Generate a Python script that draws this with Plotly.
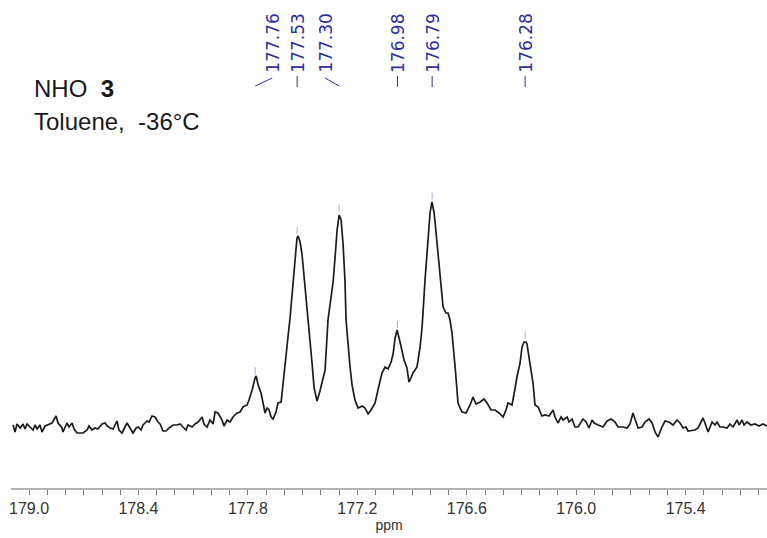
import numpy as np
import plotly.graph_objects as go

# 13C NMR trace (chemical shift in ppm, intensity in arbitrary units)
ppm = [
    179.088, 179.077, 179.066, 179.049, 179.033, 179.022, 179.011, 178.995, 178.978, 178.967,
    178.956, 178.940, 178.929, 178.912, 178.896, 178.874, 178.852, 178.841, 178.819, 178.814,
    178.792, 178.781, 178.764, 178.753, 178.737, 178.720, 178.704, 178.682, 178.671, 178.655,
    178.638, 178.622, 178.600, 178.583, 178.572, 178.556, 178.539, 178.518, 178.507, 178.490,
    178.474, 178.463, 178.446, 178.430, 178.413, 178.402, 178.386, 178.375, 178.353, 178.342,
    178.326, 178.309, 178.293, 178.282, 178.265, 178.249, 178.232, 178.210, 178.189, 178.172,
    178.156, 178.139, 178.128, 178.106, 178.090, 178.073, 178.051, 178.041, 178.024, 178.008,
    177.991, 177.980, 177.964, 177.942, 177.931, 177.914, 177.898, 177.882, 177.860, 177.843,
    177.827, 177.805, 177.794, 177.777, 177.761, 177.755, 177.744, 177.728, 177.717, 177.706,
    177.695, 177.684, 177.673, 177.662, 177.646, 177.635, 177.618, 177.607, 177.585, 177.569,
    177.558, 177.542, 177.536, 177.531, 177.525, 177.514, 177.503, 177.487, 177.481, 177.470,
    177.459, 177.449, 177.437, 177.421, 177.405, 177.388, 177.377, 177.361, 177.350, 177.333,
    177.322, 177.311, 177.300, 177.289, 177.278, 177.268, 177.262, 177.251, 177.240, 177.229,
    177.213, 177.196, 177.174, 177.158, 177.141, 177.125, 177.103, 177.087, 177.076, 177.065,
    177.048, 177.032, 177.015, 177.004, 176.993, 176.982, 176.966, 176.955, 176.944, 176.928,
    176.917, 176.906, 176.895, 176.884, 176.873, 176.856, 176.845, 176.829, 176.812, 176.801,
    176.791, 176.780, 176.774, 176.763, 176.747, 176.730, 176.714, 176.703, 176.692, 176.681,
    176.664, 176.648, 176.637, 176.626, 176.604, 176.582, 176.566, 176.549, 176.527, 176.505,
    176.489, 176.467, 176.445, 176.423, 176.401, 176.385, 176.374, 176.352, 176.335, 176.325,
    176.308, 176.297, 176.286, 176.275, 176.270, 176.253, 176.237, 176.226, 176.209, 176.188,
    176.171, 176.149, 176.127, 176.116, 176.100, 176.083, 176.072, 176.050, 176.039, 176.023,
    176.007, 175.990, 175.963, 175.946, 175.930, 175.913, 175.902, 175.880, 175.853, 175.831,
    175.809, 175.787, 175.771, 175.743, 175.721, 175.705, 175.689, 175.672, 175.661, 175.639,
    175.623, 175.601, 175.584, 175.568, 175.551, 175.530, 175.513, 175.491, 175.469, 175.447,
    175.431, 175.414, 175.398, 175.387, 175.365, 175.349, 175.332, 175.305, 175.294, 175.277,
    175.255, 175.239, 175.228, 175.212, 175.195, 175.173, 175.157, 175.140, 175.118, 175.107,
    175.091, 175.080, 175.064, 175.042, 175.020, 174.998, 174.976, 174.954,
]
intensity = [
    5, -2, 6, 2, 6, 1, 6, 3, 0, 5,
    1, 5, -2, 4, 5, 7, 14, 7, 2, -2,
    7, 3, 7, 1, -3, -3, -3, 0, 4, 0,
    2, 1, 6, 7, 4, 2, 1, 9, 0, -3,
    3, 7, 2, -3, 2, 3, 0, 5, 9, 8,
    14, 13, 8, 6, -1, -1, 2, 5, 5, 6,
    3, 0, 5, 3, 6, 8, 13, 6, 3, 10,
    6, 18, 17, 10, 4, 10, 8, 13, 17, 18,
    23, 25, 30, 40, 52, 54, 45, 37, 27, 17,
    22, 20, 13, 11, 18, 27, 28, 45, 85, 112,
    133, 167, 182, 192, 194, 188, 175, 145, 127, 107,
    88, 68, 42, 29, 39, 52, 60, 110, 125, 148,
    173, 200, 215, 210, 185, 150, 110, 85, 63, 45,
    30, 22, 24, 22, 16, 20, 27, 40, 50, 57,
    63, 61, 68, 76, 92, 100, 88, 78, 70, 62,
    48, 52, 57, 60, 63, 83, 103, 150, 197, 218,
    228, 218, 208, 185, 160, 123, 117, 117, 110, 97,
    63, 27, 22, 18, 17, 25, 33, 26, 28, 31,
    27, 20, 20, 17, 13, 20, 27, 25, 42, 53,
    67, 83, 88, 88, 86, 67, 47, 25, 23, 14,
    15, 14, 20, 13, 7, 13, 10, 13, 8, 11,
    3, 3, 11, 8, 2, 10, 7, 5, 3, 9,
    11, 8, 3, 3, 2, 6, 17, 8, 2, 3,
    8, 11, 7, -2, -7, 3, 9, 8, 5, 10,
    7, 2, 3, -1, 0, 0, 2, 12, 7, -2,
    8, 5, 8, 3, 3, 2, 6, 3, 10, 5,
    10, 5, 8, 5, 6, 4, 6, 4,
]

# Picked peaks
peak_ppm = [177.76, 177.53, 177.30, 176.98, 176.79, 176.28]
peak_text = ["177.76", "177.53", "177.30", "176.98", "176.79", "176.28"]
label_shift_px = [17, 0, -14, 0, 0, 0]

# Axis ticks
tick_vals = [179.0, 178.4, 177.8, 177.2, 176.6, 176.0, 175.4]
tick_text = [f"{v:.1f}" for v in tick_vals]

W, H = 767, 538
ML, MB = 11, 50
PLOT_H = H - MB


def ypaper(px):
    """Convert a pixel row (from the top of the figure) to paper y."""
    return 1 - px / PLOT_H


def xpaper(px):
    """Convert a pixel column (from the left of the figure) to paper x."""
    return (px - ML) / (W - ML)


fig = go.Figure()

fig.add_trace(go.Scatter(
    x=ppm, y=intensity, mode="lines",
    line=dict(color="#1c1c1c", width=1.7),
    hoverinfo="skip", showlegend=False,
))

# small peak-pick markers just above each maximum
x_rev = np.array(ppm)[::-1]
y_rev = np.array(intensity)[::-1]
peak_h = np.interp(peak_ppm, x_rev, y_rev)
fig.add_trace(go.Scatter(
    x=peak_ppm, y=peak_h + 7, mode="markers",
    marker=dict(symbol="line-ns", size=5, line=dict(color="#a9a9ea", width=1)),
    hoverinfo="skip", showlegend=False,
))

annotations = []
shapes = []
label_color = "#2e2e9e"
for pp, txt, sh in zip(peak_ppm, peak_text, label_shift_px):
    annotations.append(dict(
        x=pp, xref="x", y=ypaper(43.5), yref="paper",
        text=txt, textangle=-90, showarrow=False,
        xanchor="center", yanchor="middle", xshift=sh,
        font=dict(family="DejaVu Sans", size=17, color=label_color),
    ))
    line_style = dict(color=label_color, width=1)
    if sh == 0:
        shapes.append(dict(type="line", xref="x", yref="paper",
                           x0=pp, x1=pp, y0=ypaper(76), y1=ypaper(87),
                           line=line_style))
    else:
        shapes.append(dict(type="line", xref="x", yref="paper",
                           xsizemode="pixel", xanchor=pp, x0=sh, x1=0,
                           y0=ypaper(78), y1=ypaper(86), line=line_style))

text_font = dict(family="Liberation Sans", size=24, color="#1a1a1a")
annotations.append(dict(
    x=xpaper(32), xref="paper", y=ypaper(89), yref="paper",
    text="NHO\u00a0\u00a0<b>3</b>", showarrow=False,
    xanchor="left", yanchor="middle", font=text_font,
))
annotations.append(dict(
    x=xpaper(32), xref="paper", y=ypaper(121), yref="paper",
    text="Toluene,\u00a0\u00a0-36°C", showarrow=False,
    xanchor="left", yanchor="middle", font=text_font,
))

fig.update_layout(
    width=W, height=H,
    margin=dict(l=ML, r=0, t=0, b=MB, pad=0),
    paper_bgcolor="white", plot_bgcolor="white",
    xaxis=dict(
        range=[179.099, 174.954],
        showgrid=False, zeroline=False,
        showline=True, linecolor="#b4b4b4", linewidth=2,
        ticks="outside", ticklen=5, tickwidth=1, tickcolor="#7a7a7a",
        tickmode="array", tickvals=tick_vals, ticktext=tick_text,
        tickfont=dict(family="Liberation Sans", size=16, color="#333333"),
        minor=dict(tick0=179.0, dtick=0.1, ticks="outside", ticklen=5,
                   tickwidth=1, tickcolor="#7a7a7a"),
        title=dict(text="ppm", standoff=0,
                   font=dict(family="Liberation Sans", size=14, color="#333333")),
        fixedrange=True,
    ),
    yaxis=dict(range=[-58, 430], visible=False, fixedrange=True),
    annotations=annotations,
    shapes=shapes,
    showlegend=False,
)

fig.write_html("out.html")
